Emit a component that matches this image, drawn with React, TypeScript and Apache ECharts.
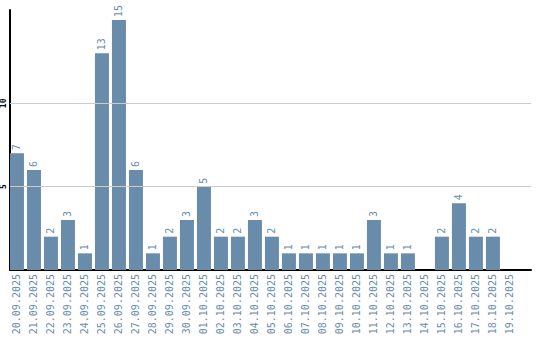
import React, { useEffect, useRef } from "react";
import * as echarts from "echarts";

const dates = [
  "20.09.2025", "21.09.2025", "22.09.2025", "23.09.2025", "24.09.2025", "25.09.2025",
  "26.09.2025", "27.09.2025", "28.09.2025", "29.09.2025", "30.09.2025", "01.10.2025",
  "02.10.2025", "03.10.2025", "04.10.2025", "05.10.2025", "06.10.2025", "07.10.2025",
  "08.10.2025", "09.10.2025", "10.10.2025", "11.10.2025", "12.10.2025", "13.10.2025",
  "14.10.2025", "15.10.2025", "16.10.2025", "17.10.2025", "18.10.2025", "19.10.2025",
];
const counts: (number | null)[] = [
  7, 6, 2, 3, 1, 13, 15, 6, 1, 2, 3, 5, 2, 2, 3, 2, 1, 1, 1, 1, 1, 3, 1, 1, null, 2, 4, 2, 2, null,
];
const gridValues = [5, 10];

const BAR = "#6a8cab";
const TXT = "#6b8cae";
const MONO = "DejaVu Sans Mono";

export default function App() {
  const ref = useRef<HTMLDivElement>(null);
  useEffect(() => {
    if (!ref.current) return;
    document.body.style.margin = "0";
    const chart = echarts.init(ref.current, null, { renderer: "svg" });
    const idx = dates.map((_, i) => i);
    chart.setOption({
      animation: false,
      grid: { left: 10, right: 9, top: 10, bottom: 70, outerBoundsMode: "none" },
      xAxis: {
        type: "value",
        min: -0.41,
        max: 30.24,
        splitLine: { show: false },
        axisTick: { show: false },
        axisLine: { show: true, onZero: false, lineStyle: { color: "#000", width: 2 } },
        axisLabel: {
          customValues: idx,
          rotate: 90,
          margin: 4,
          color: TXT,
          fontFamily: MONO,
          fontSize: 10,
          hideOverlap: false,
          formatter: (v: number) => dates[Math.round(v)] ?? "",
        },
      },
      yAxis: {
        type: "value",
        min: 0,
        max: 15.6,
        interval: 5,
        splitLine: { show: false },
        axisTick: { show: false },
        axisLine: { show: true, onZero: false, lineStyle: { color: "#000", width: 2 } },
        axisLabel: {
          show: true,
          rotate: 90,
          margin: 3,
          color: "#000",
          fontFamily: MONO,
          fontSize: 8,
          fontWeight: "bold",
          hideOverlap: false,
          formatter: (v: number) =>
            gridValues.indexOf(Math.round(v)) >= 0 && Math.abs(v - Math.round(v)) < 1e-6
              ? String(Math.round(v))
              : "",
        },
      },
      series: [
        {
          type: "bar",
          barWidth: 14,
          data: counts.map((c, i) => [i, c]),
          itemStyle: { color: BAR },
          label: {
            show: true,
            position: "top",
            rotate: 90,
            align: "left",
            verticalAlign: "middle",
            distance: 3,
            color: TXT,
            fontFamily: MONO,
            fontSize: 10,
            formatter: (p: any) => String(p.value[1]),
          },
          markLine: {
            silent: true,
            symbol: "none",
            label: { show: false },
            lineStyle: { color: "#cccccc", type: "solid", width: 1 },
            data: gridValues.map((v) => ({ yAxis: v })),
          },
        },
      ],
    });
    return () => chart.dispose();
  }, []);
  return <div ref={ref} style={{ width: 540, height: 340 }} />;
}
